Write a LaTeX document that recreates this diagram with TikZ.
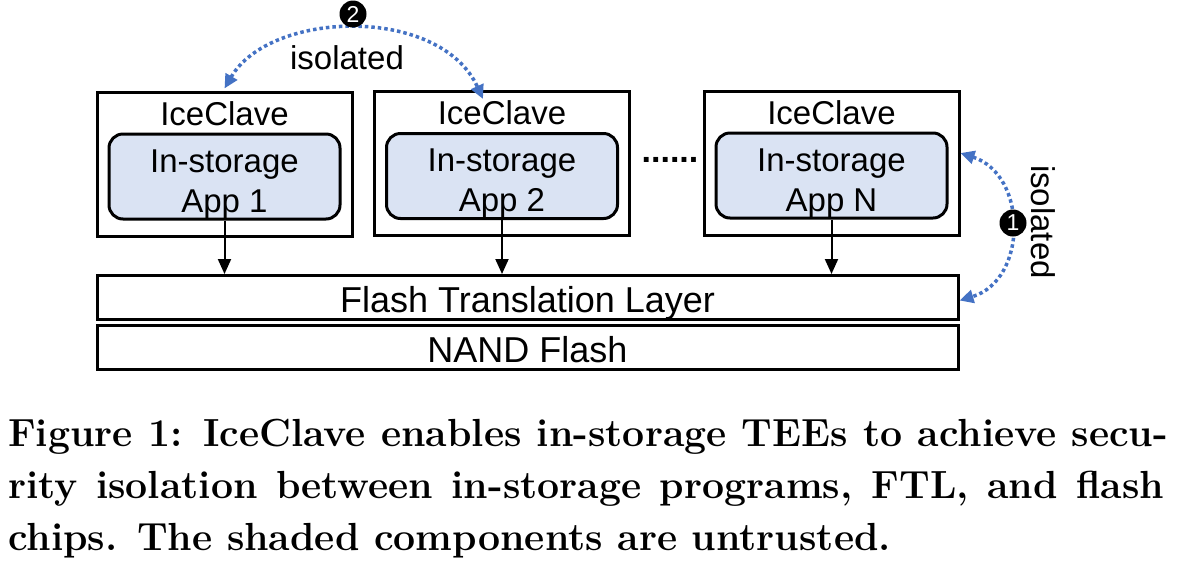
\documentclass[tikz,border=0pt]{standalone}
\usepackage{fontspec}
\setsansfont{Liberation Sans}
\usepackage{tikz}
\usetikzlibrary{arrows.meta, positioning}
\definecolor{appblue}{RGB}{218,227,243}
\definecolor{isoblue}{RGB}{68,114,196}

\begin{document}
\begin{tikzpicture}[x=1pt, y=-1pt,
    enclave/.style={draw, line width=3pt, minimum width=255pt, minimum height=144pt, inner sep=0pt},
    app/.style={draw, line width=3pt, rounded corners=14pt, fill=appblue, minimum width=231pt,
                minimum height=85pt, inner sep=0pt, align=center, font=\sffamily\fontsize{33}{40}\selectfont},
    layer/.style={draw, line width=3pt, minimum width=861pt, minimum height=44pt, inner sep=0pt,
                  text height=30pt, text depth=1pt, font=\sffamily\fontsize{36}{40}\selectfont},
    txt/.style={inner sep=0pt, font=\sffamily\fontsize{33}{40}\selectfont},
    num/.style={circle, fill=black, text=white, minimum size=27pt, inner sep=0pt,
                font=\sffamily\fontsize{23}{23}\selectfont},
    down/.style={-{Triangle[length=15pt,width=13pt]}, line width=2pt},
    iso/.style={{Triangle[length=14pt,width=13pt]}-{Triangle[length=14pt,width=13pt]},
                draw=isoblue, line width=3.5pt, dash pattern=on 3.5pt off 3pt},
    capline/.style={anchor=base west, inner sep=0pt, font=\bfseries\fontsize{39.2}{52}\selectfont}]
    \useasboundingbox (0,0) rectangle (1184,566);

    % enclaves
    \node[enclave] (enc1) at (224.5,164)   {};
    \node[enclave] (enc2) at (502,163.5)   {};
    \node[enclave] (enc3) at (831.5,163)   {};
    \foreach \i/\n in {1/1, 2/2, 3/N} {
      \node[txt] (title\i) at ([yshift=-23pt]enc\i.north) {IceClave};
      \node[app] (app\i) at ([yshift=-12.5pt]enc\i.center) {\rule{0pt}{38pt}In-storage\\App \n};
    }
    \node[txt, font=\sffamily\bfseries\fontsize{34}{40}\selectfont] (dots) at (670,160) {......};

    % storage layers
    \node[layer] (ftl)  at (527.5,297.5) {Flash Translation Layer};
    \node[layer] (nand) at (527.5,347.5) {NAND Flash};

    \foreach \i in {1,2,3}
      \draw[down] (app\i.south) -- (app\i.south |- ftl.north);

    % isolation
    \draw[iso] ([yshift=2pt]enc1.north) .. controls (270,10) and (440,5) .. ([xshift=-19pt,yshift=-9pt]enc2.north);
    \node[num] (n2) at (353,14) {2};
    \node[txt] (iso2) at (347,58) {isolated};

    \draw[iso] ([yshift=10pt]enc3.east) .. controls (1028,175) and (1028,280) .. ([yshift=-3pt]ftl.east);
    \node[num] (n1) at (1013,223) {1};
    \node[txt, rotate=-90] (iso1) at (1043,222) {isolated};

    % caption
    \node[capline] (cap1) at (8,446) {\makebox[1160pt][s]{Figure 1: IceClave enables in-storage TEEs to achieve secu-}};
    \node[capline] (cap2) at (8,498) {\makebox[1156pt][s]{rity isolation between in-storage programs, FTL, and flash}};
    \node[capline] (cap3) at (8,550) {chips. The shaded components are untrusted.};
\end{tikzpicture}
\end{document}
